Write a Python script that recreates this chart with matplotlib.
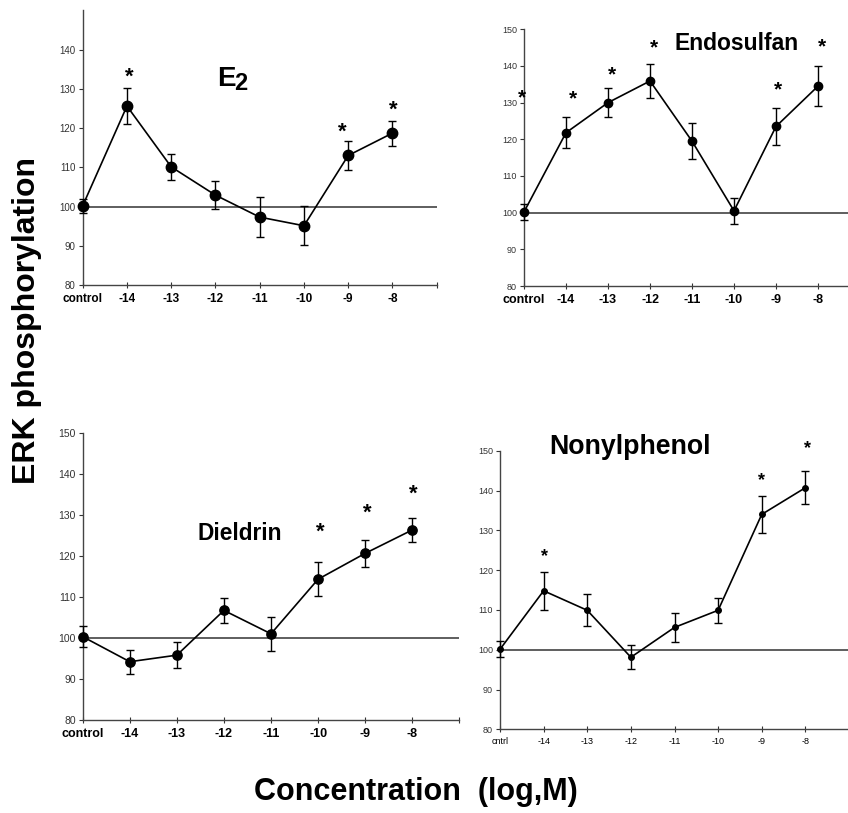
import matplotlib
matplotlib.use("Agg")
import matplotlib.pyplot as plt

plt.rcParams['font.family'] = ['Liberation Sans', 'DejaVu Sans']

# x positions: control, -14 ... -8
conc_labels = ['control', '-14', '-13', '-12', '-11', '-10', '-9', '-8']
nonyl_labels = ['cntrl', '-14', '-13', '-12', '-11', '-10', '-9', '-8']

e2_mean = [100.2, 125.6, 110.1, 102.9, 97.3, 95.1, 113.0, 118.7]
e2_err = [1.8, 4.6, 3.3, 3.6, 5.0, 5.0, 3.6, 3.2]

endo_mean = [100.2, 121.8, 130.0, 135.9, 119.5, 100.5, 123.5, 134.5]
endo_err = [2.2, 4.2, 4.0, 4.7, 4.9, 3.5, 5.0, 5.5]

diel_mean = [100.3, 94.2, 95.8, 106.7, 101.0, 114.3, 120.6, 126.3]
diel_err = [2.5, 2.9, 3.1, 3.0, 4.2, 4.2, 3.3, 3.0]

nonyl_mean = [100.1, 114.8, 109.9, 98.1, 105.6, 109.9, 134.0, 140.7]
nonyl_err = [2.0, 4.7, 4.0, 3.0, 3.7, 3.1, 4.6, 4.2]

W, H = 848, 813
fig = plt.figure(figsize=(W / 100, H / 100), dpi=100)


def px_axes(left, right, bottom, top):
    return fig.add_axes([left / W, 1 - bottom / H, (right - left) / W, (bottom - top) / H])


def panel(ax, mean, err, labels, ymax, msize, xfs, xbold, yfs,
          star_x, star_y, star_fs):
    x = list(range(len(mean)))
    ax.axhline(100, color='#333333', lw=1.1, zorder=1)
    ax.errorbar(x, mean, yerr=err, fmt='-o', color='black', ms=msize,
                lw=1.2, elinewidth=1.0, capsize=3, capthick=1.0, zorder=3,
                clip_on=False)
    ax.set_xlim(0, 8)
    ax.set_ylim(80, ymax)
    ax.set_xticks(range(9))
    ax.set_xticklabels(labels + [''], fontsize=xfs,
                       fontweight='bold' if xbold else 'normal')
    ax.set_yticks(range(80, 151, 10))
    ax.tick_params(axis='y', labelsize=yfs, colors='#333333', length=3,
                   width=0.8, pad=2)
    ax.tick_params(axis='x', direction='inout', length=5, width=0.8, pad=3,
                   colors='#333333', labelcolor='black')
    for s in ['top', 'right']:
        ax.spines[s].set_visible(False)
    for s in ['left', 'bottom']:
        ax.spines[s].set_color('#444444')
        ax.spines[s].set_linewidth(1.0)
    # significance stars
    for sx, sy in zip(star_x, star_y):
        ax.text(sx, sy, '*', fontsize=star_fs, ha='center', va='center',
                fontweight='bold', clip_on=False)


# E2
ax1 = px_axes(82.7, 436.7, 285, 10.3)
panel(ax1, e2_mean, e2_err, conc_labels, 148, 7.5, 8.5, True, 7,
      [1.06, 5.86, 7.01], [133, 119, 124.5], 16)
ax1.set_yticks(range(80, 141, 10))
fig.text(226 / W, 1 - 79 / H, 'E', fontsize=20, fontweight='bold',
         ha='center', va='center')
fig.text(241 / W, 1 - 84 / H, '2', fontsize=17, fontweight='bold',
         ha='center', va='center')

# Endosulfan (right part runs off the figure)
ax2 = px_axes(524, 860, 286, 29.3)
panel(ax2, endo_mean, endo_err, conc_labels, 150, 6, 9, True, 6.5,
      [-0.05, 1.17, 2.1, 3.1, 6.05, 7.1], [131.4, 130.9, 137.5, 145, 133.6, 145.2], 15)
fig.text(737 / W, 1 - 43 / H, 'Endosulfan', fontsize=16.5, fontweight='bold',
         ha='center', va='center')

# Dieldrin
ax3 = px_axes(82.7, 459.3, 720, 432.7)
panel(ax3, diel_mean, diel_err, conc_labels, 150, 6.7, 9, True, 7.5,
      [5.04, 6.05, 7.03], [125.8, 130.4, 135], 16)
fig.text(240 / W, 1 - 533 / H, 'Dieldrin', fontsize=16.4, fontweight='bold',
         ha='center', va='center')

# Nonylphenol
ax4 = px_axes(500, 849, 729.3, 450.7)
panel(ax4, nonyl_mean, nonyl_err, nonyl_labels, 150, 4, 6.5, False, 6.5,
      [1.01, 6.0, 7.06], [123.4, 142.4, 150.6], 13)
fig.text(630 / W, 1 - 447 / H, 'Nonylphenol', fontsize=19.3, fontweight='bold',
         ha='center', va='center')

fig.text(27 / W, 1 - 320 / H, 'ERK phosphorylation', fontsize=23,
         fontweight='bold', rotation=90, ha='center', va='center')
fig.text(416 / W, 1 - 792 / H, 'Concentration  (log,M)', fontsize=22,
         fontweight='bold', ha='center', va='center')

fig.savefig('out.png', dpi=100)
